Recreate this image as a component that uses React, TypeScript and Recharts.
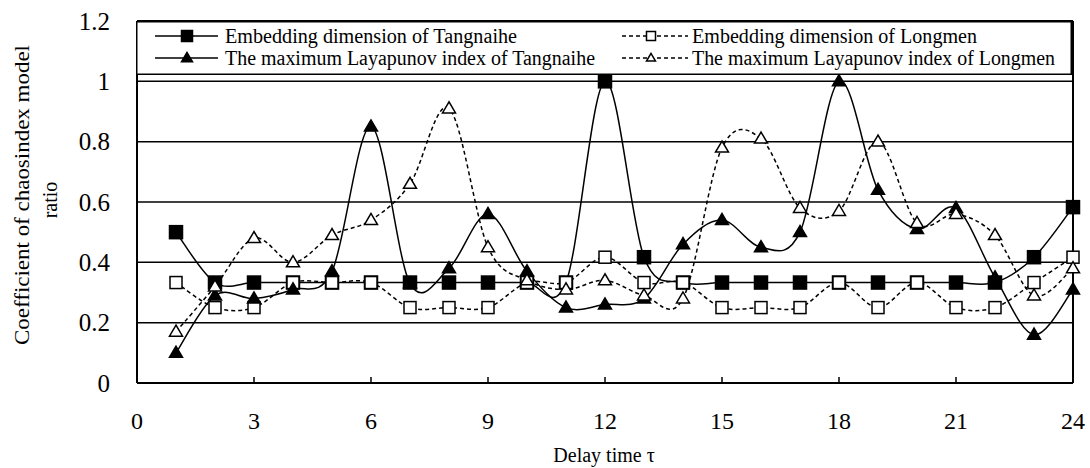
import React from 'react';
import { LineChart, Line, XAxis, YAxis, CartesianGrid, Legend, ReferenceLine } from 'recharts';

const delays = [1, 2, 3, 4, 5, 6, 7, 8, 9, 10, 11, 12, 13, 14, 15, 16, 17, 18, 19, 20, 21, 22, 23, 24];
const embTangnaihe = [0.5, 0.333, 0.333, 0.333, 0.333, 0.333, 0.333, 0.333, 0.333, 0.333, 0.333, 1.0, 0.417, 0.333, 0.333, 0.333, 0.333, 0.333, 0.333, 0.333, 0.333, 0.333, 0.417, 0.583];
const embLongmen = [0.333, 0.25, 0.25, 0.333, 0.333, 0.333, 0.25, 0.25, 0.25, 0.333, 0.333, 0.417, 0.333, 0.333, 0.25, 0.25, 0.25, 0.333, 0.25, 0.333, 0.25, 0.25, 0.333, 0.417];
const lyaTangnaihe = [0.1, 0.29, 0.28, 0.31, 0.37, 0.85, 0.33, 0.38, 0.56, 0.37, 0.25, 0.26, 0.28, 0.46, 0.54, 0.45, 0.5, 1.0, 0.64, 0.51, 0.58, 0.35, 0.16, 0.31];
const lyaLongmen = [0.17, 0.32, 0.48, 0.4, 0.49, 0.54, 0.66, 0.91, 0.45, 0.34, 0.31, 0.34, 0.29, 0.28, 0.78, 0.81, 0.58, 0.57, 0.8, 0.53, 0.56, 0.49, 0.29, 0.38];

const xTicks = [0, 3, 6, 9, 12, 15, 18, 21, 24];
const yTicks = [0, 0.2, 0.4, 0.6, 0.8, 1, 1.2];
const seriesNames = [
  'Embedding dimension of Tangnaihe',
  'Embedding dimension of Longmen',
  'The maximum Layapunov index of Tangnaihe',
  'The maximum Layapunov index of Longmen',
];
const xTitle = 'Delay time \u03c4';
const yTitleLines = ['Coefficient of chaosindex model', 'ratio'];

const data = delays.map((d, i) => ({
  tau: d,
  embT: embTangnaihe[i],
  embL: embLongmen[i],
  lyaT: lyaTangnaihe[i],
  lyaL: lyaLongmen[i],
}));

const FONT = "'Liberation Serif', serif";

// Excel-like smoothed line (Catmull-Rom style bezier)
const excelSmooth = (context: any) => {
  let pts: number[][] = [];
  return {
    areaStart() {},
    areaEnd() {},
    lineStart() {
      pts = [];
    },
    point(x: number, y: number) {
      pts.push([+x, +y]);
    },
    lineEnd() {
      const n = pts.length;
      if (!n) return;
      context.moveTo(pts[0][0], pts[0][1]);
      for (let i = 0; i < n - 1; i++) {
        const p0 = i > 0 ? pts[i - 1] : pts[i];
        const p1 = pts[i];
        const p2 = pts[i + 1];
        const p3 = i + 2 < n ? pts[i + 2] : pts[i + 1];
        context.bezierCurveTo(
          p1[0] + (p2[0] - p0[0]) / 6,
          p1[1] + (p2[1] - p0[1]) / 6,
          p2[0] - (p3[0] - p1[0]) / 6,
          p2[1] - (p3[1] - p1[1]) / 6,
          p2[0],
          p2[1]
        );
      }
    },
  };
};

const SquareMark = ({ cx, cy, filled, size }: any) => (
  <rect
    x={cx - size / 2}
    y={cy - size / 2}
    width={size}
    height={size}
    fill={filled ? '#000' : '#fff'}
    stroke="#000"
    strokeWidth={1.5}
  />
);

const TriMark = ({ cx, cy, filled, size }: any) => {
  const h = size * 0.85;
  const pts = `${cx},${cy - h * 0.6} ${cx - size / 2},${cy + h * 0.4} ${cx + size / 2},${cy + h * 0.4}`;
  return <polygon points={pts} fill={filled ? '#000' : '#fff'} stroke="#000" strokeWidth={1.5} />;
};

const makeDot = (kind: 'sq' | 'tri', filled: boolean, size: number) => (props: any) => {
  const { cx, cy, index } = props;
  if (cx == null || cy == null) return <g key={index} />;
  return kind === 'sq' ? (
    <SquareMark key={index} cx={cx} cy={cy} filled={filled} size={size} />
  ) : (
    <TriMark key={index} cx={cx} cy={cy} filled={filled} size={size} />
  );
};

const XTick = (props: any) => {
  const { x, payload } = props;
  return (
    <text x={x} y={421} textAnchor="middle" dominantBaseline="central" fontFamily={FONT} fontSize={24} fill="#000">
      {String(payload.value)}
    </text>
  );
};

const YTick = (props: any) => {
  const { y, payload } = props;
  return (
    <text x={110} y={y} textAnchor="end" dominantBaseline="central" fontFamily={FONT} fontSize={25} fill="#000">
      {String(payload.value)}
    </text>
  );
};

const LegendBox = () => {
  const W = 936;
  const H = 54;
  const rows = [15, 37];
  const items = [
    { col: 0, row: 0, kind: 'sq', filled: true, dash: false, name: seriesNames[0], len: 292 },
    { col: 1, row: 0, kind: 'sq', filled: false, dash: true, name: seriesNames[1], len: 285 },
    { col: 0, row: 1, kind: 'tri', filled: true, dash: false, name: seriesNames[2], len: 370 },
    { col: 1, row: 1, kind: 'tri', filled: false, dash: true, name: seriesNames[3], len: 363 },
  ];
  const cols = [
    { x1: 19, x2: 82, mx: 51, tx: 89 },
    { x1: 486, x2: 552, mx: 515, tx: 556 },
  ];
  return (
    <svg width={W} height={H} style={{ display: 'block' }}>
      <rect x={0.75} y={0.75} width={W - 1.5} height={H - 1.5} fill="#fff" stroke="#000" strokeWidth={1.5} />
      {items.map((it, i) => {
        const c = cols[it.col];
        const y = rows[it.row];
        return (
          <g key={i}>
            <line
              x1={c.x1}
              x2={c.x2}
              y1={y}
              y2={y}
              stroke="#000"
              strokeWidth={1.5}
              strokeDasharray={it.dash ? '4 3' : undefined}
            />
            {it.kind === 'sq' ? (
              <SquareMark cx={c.mx} cy={y} filled={it.filled} size={it.filled ? 11 : 9} />
            ) : (
              <TriMark cx={c.mx} cy={y} filled={it.filled} size={it.filled ? 11 : 9} />
            )}
            <text
              x={c.tx}
              y={y}
              dominantBaseline="central"
              fontFamily={FONT}
              fontSize={20}
              fill="#000"
              textLength={it.len}
              lengthAdjust="spacingAndGlyphs"
            >
              {it.name}
            </text>
          </g>
        );
      })}
    </svg>
  );
};

const YTitle = () => (
  <g>
    <text
      transform="translate(22,195) rotate(-90)"
      textAnchor="middle"
      dominantBaseline="central"
      fontFamily={FONT}
      fontSize={20}
      fill="#000"
      textLength={300}
      lengthAdjust="spacingAndGlyphs"
    >
      {yTitleLines[0]}
    </text>
    <text
      transform="translate(50,200) rotate(-90)"
      textAnchor="middle"
      dominantBaseline="central"
      fontFamily={FONT}
      fontSize={20}
      fill="#000"
    >
      {yTitleLines[1]}
    </text>
  </g>
);

const XTitle = () => (
  <text x={604} y={455} textAnchor="middle" dominantBaseline="central" fontFamily={FONT} fontSize={20} fill="#000">
    {xTitle}
  </text>
);

export default function App() {
  return (
    <div style={{ position: 'absolute', left: 0, top: 0, background: '#fff', fontFamily: FONT }}>
      <LineChart
        width={1090}
        height={468}
        data={data}
        margin={{ top: 21, right: 17, bottom: 35, left: 77 }}
        style={{ fontFamily: FONT }}
      >
        <CartesianGrid vertical={false} horizontal stroke="#000" strokeWidth={1.5} />
        <XAxis
          dataKey="tau"
          type="number"
          domain={[0, 24]}
          ticks={xTicks}
          interval={0}
          height={50}
          tickSize={-6}
          tickMargin={26}
          axisLine={{ stroke: '#000', strokeWidth: 2 }}
          tickLine={{ stroke: '#000', strokeWidth: 1.5 }}
          tick={<XTick />}
          label={{ content: XTitle }}
        />
        <YAxis
          type="number"
          domain={[0, 1.2]}
          ticks={yTicks}
          interval={0}
          width={60}
          tickSize={0}
          tickMargin={27}
          axisLine={{ stroke: '#000', strokeWidth: 2 }}
          tickLine={false}
          tick={<YTick />}
          label={{ content: YTitle }}
        />
        <ReferenceLine x={24} stroke="#000" strokeWidth={2} />
        <ReferenceLine y={1.2} stroke="#000" strokeWidth={2} />
        <Legend
          layout="vertical"
          align="center"
          verticalAlign="middle"
          wrapperStyle={{ left: 136, top: 21, width: 936, height: 54 }}
          content={() => <LegendBox />}
        />
        <Line
          dataKey="embT"
          name={seriesNames[0]}
          type={excelSmooth as any}
          stroke="#000"
          strokeWidth={1.5}
          dot={makeDot('sq', true, 13)}
          isAnimationActive={false}
        />
        <Line
          dataKey="embL"
          name={seriesNames[1]}
          type={excelSmooth as any}
          stroke="#000"
          strokeWidth={1.5}
          strokeDasharray="4 3"
          dot={makeDot('sq', false, 12)}
          isAnimationActive={false}
        />
        <Line
          dataKey="lyaT"
          name={seriesNames[2]}
          type={excelSmooth as any}
          stroke="#000"
          strokeWidth={1.5}
          dot={makeDot('tri', true, 13)}
          isAnimationActive={false}
        />
        <Line
          dataKey="lyaL"
          name={seriesNames[3]}
          type={excelSmooth as any}
          stroke="#000"
          strokeWidth={1.5}
          strokeDasharray="4 3"
          dot={makeDot('tri', false, 13)}
          isAnimationActive={false}
        />
      </LineChart>
    </div>
  );
}
